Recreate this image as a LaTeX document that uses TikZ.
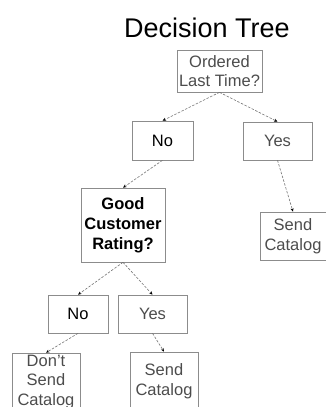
\documentclass[tikz,border=0pt]{standalone}
\usepackage{fontspec}
\setmainfont{Liberation Sans}
\usetikzlibrary{arrows.meta}
\begin{document}
\begin{tikzpicture}[x=1pt,y=-1pt,
  box/.style={draw=black!45, line width=0.6pt, inner sep=0pt, align=center,
    font=\fontsize{16.5}{19}\selectfont},
  conn/.style={draw=black!55, line width=0.6pt, dash pattern=on 2.5pt off 1.5pt,
    -{Stealth[length=3.5pt,width=3pt,black]}},
  graytxt/.style={text=black!70},
  blacktxt/.style={text=black}]
\useasboundingbox (0,0) rectangle (325,407);
\node[font=\fontsize{27}{30}\selectfont, anchor=base] (title) at (207,37) {Decision Tree};
\node[box, graytxt, minimum width=85pt, minimum height=42pt] (ordered) at (219.5,71) {Ordered\\Last Time?};
\node[box, blacktxt, minimum width=61pt, minimum height=39pt] (no1) at (162.5,140.5) {No};
\node[box, graytxt, minimum width=69pt, minimum height=38pt] (yes1) at (277.5,141) {Yes};
\node[box, blacktxt, minimum width=84pt, minimum height=74pt, font=\fontsize{16.5}{20}\selectfont\bfseries] (good) at (123,225) {Good\\Customer\\Rating?};
\node[box, graytxt, minimum width=66pt, minimum height=48pt, font=\fontsize{16.5}{20}\selectfont] (send1) at (293,236) {Send\\Catalog};
\node[box, blacktxt, minimum width=60pt, minimum height=38pt] (no2) at (78,314) {No};
\node[box, graytxt, minimum width=69pt, minimum height=38pt] (yes2) at (152.5,314) {Yes};
\node[box, graytxt, minimum width=68pt, minimum height=58pt, font=\fontsize{16.5}{19.5}\selectfont] (dont) at (46,382) {Don\symbol{39}t\\Send\\Catalog};
\node[box, graytxt, minimum width=68pt, minimum height=58pt, font=\fontsize{16.5}{20}\selectfont] (send2) at (164,381) {Send\\Catalog};
\draw[conn] (ordered.south) -- (no1.north);
\draw[conn] (ordered.south) -- (yes1.north);
\draw[conn] (no1.south) -- (good.north);
\draw[conn] (yes1.south) -- (send1.north);
\draw[conn] (good.south) -- (no2.north);
\draw[conn] (good.south) -- (yes2.north);
\draw[conn] (no2.south) -- (dont.north);
\draw[conn] (yes2.south) -- (send2.north);
\end{tikzpicture}
\end{document}
